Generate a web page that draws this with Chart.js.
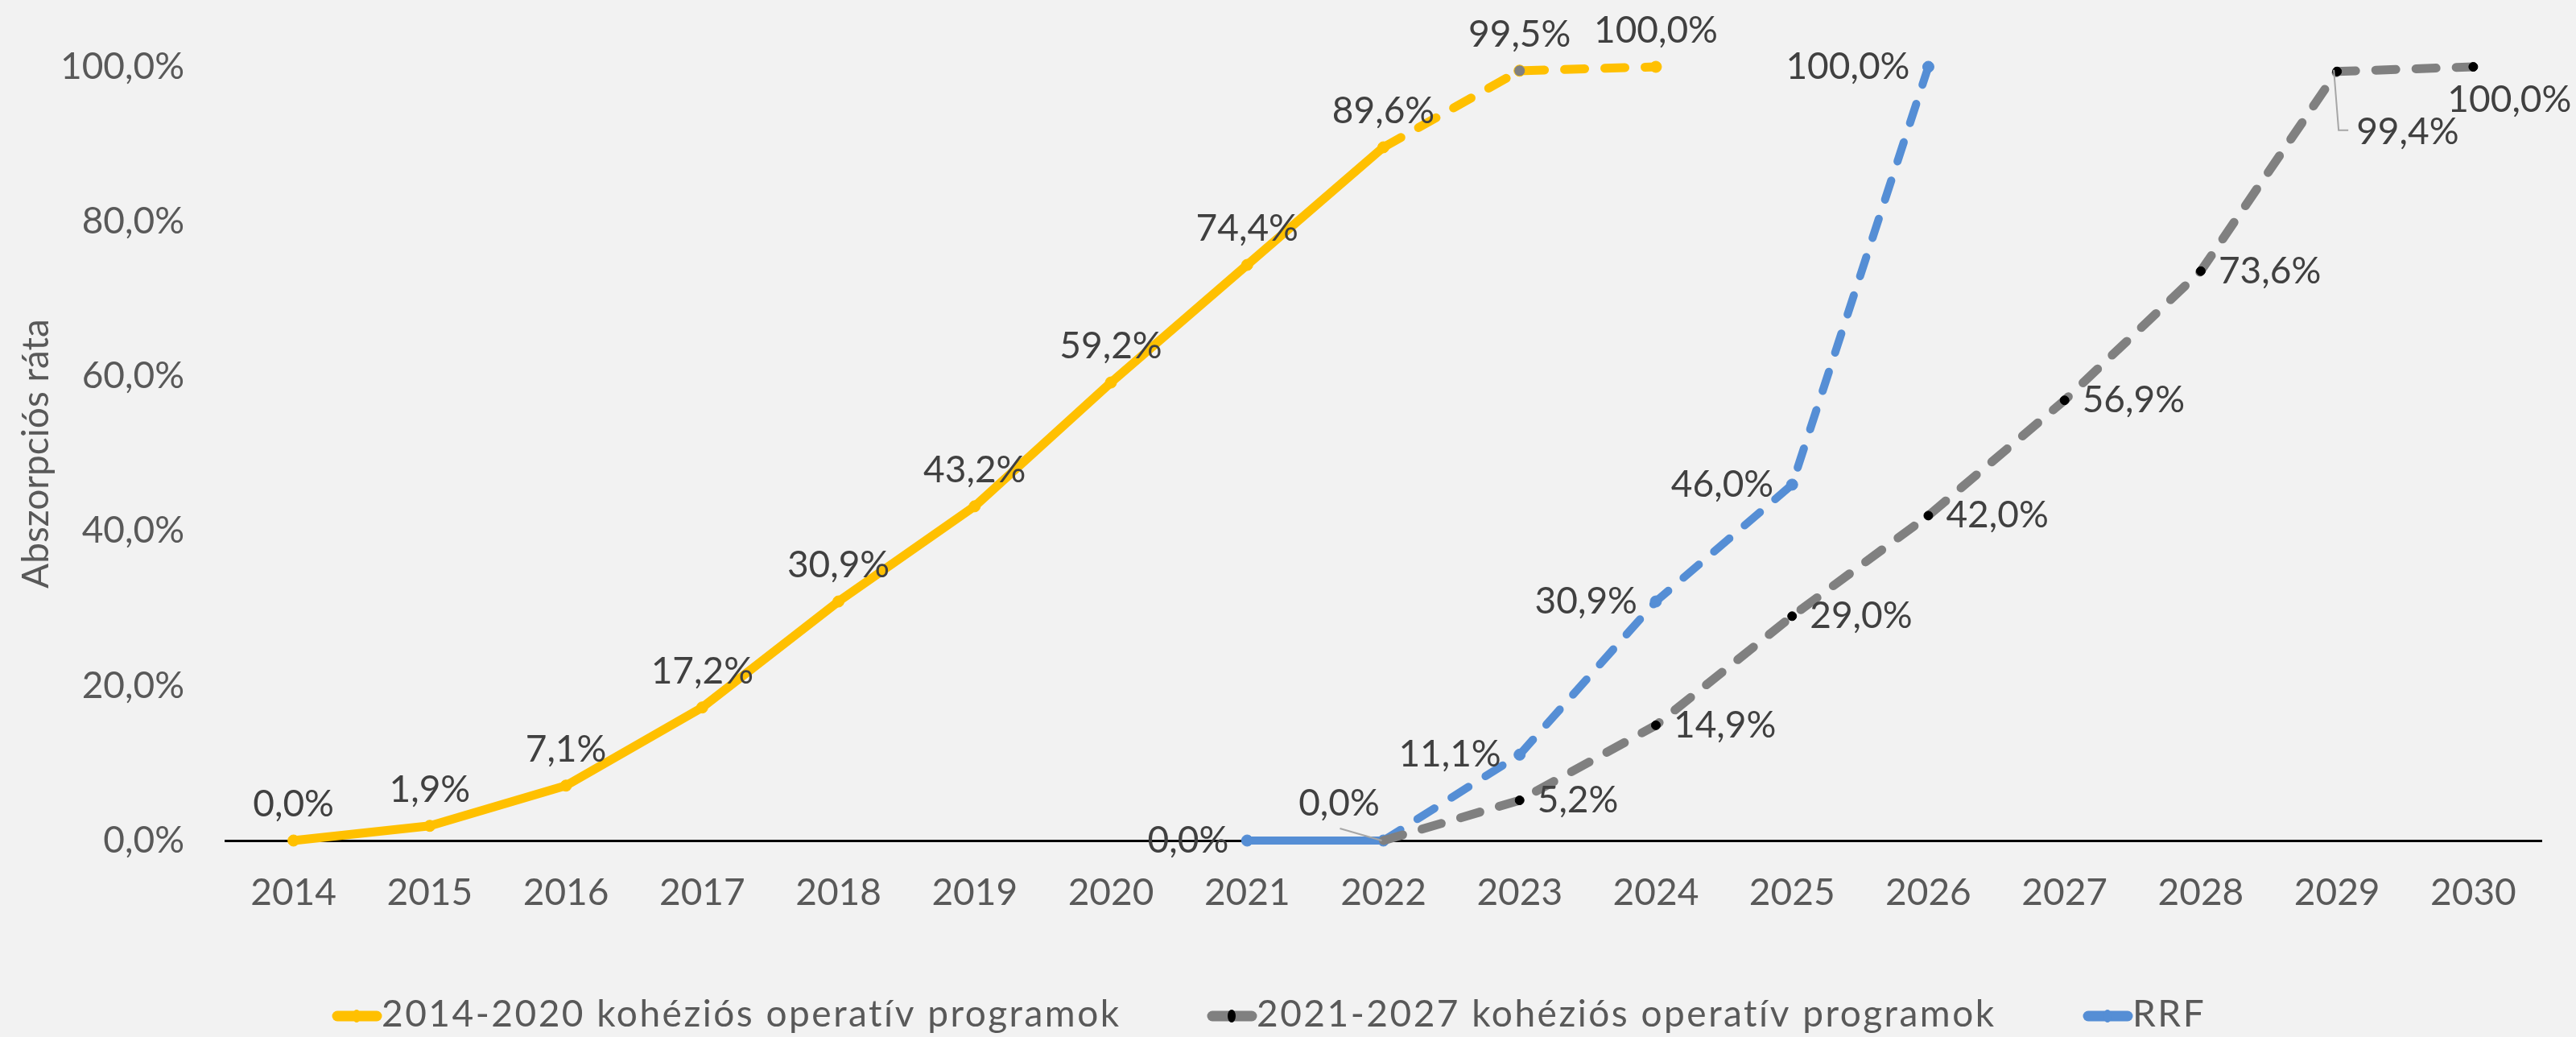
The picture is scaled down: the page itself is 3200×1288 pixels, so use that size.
<!DOCTYPE html>
<html lang="hu">
<head>
    <meta charset="UTF-8">
    <title>Abszorpciós ráta</title>
    <script src="https://cdn.jsdelivr.net/npm/chart.js"></script>
    <style>
        body {
            margin: 0;
            background: #f2f2f2;
        }
        .wrap {
            width: 3200px;
            height: 1288px;
        }
    </style>
</head>
<body>
    <div class="wrap">
        <canvas id="absChart" width="3200" height="1288"></canvas>
    </div>

    <script>
        // adatok
        var years = ['2014', '2015', '2016', '2017', '2018', '2019', '2020', '2021', '2022',
                     '2023', '2024', '2025', '2026', '2027', '2028', '2029', '2030'];
        var prog1420 = [0, 1.9, 7.1, 17.2, 30.9, 43.2, 59.2, 74.4, 89.6, 99.5, 100.0,
                        null, null, null, null, null, null];
        var prog2127 = [null, null, null, null, null, null, null, null, 0, 5.2, 14.9,
                        29.0, 42.0, 56.9, 73.6, 99.4, 100.0];
        var rrf = [null, null, null, null, null, null, null, 0, 0, 11.1, 30.9, 46.0, 100.0,
                   null, null, null, null];
        var seriesNames = ['2014-2020 kohéziós operatív programok',
                           '2021-2027 kohéziós operatív programok', 'RRF'];
        var yTicks = [0, 20, 40, 60, 80, 100];

        var FONT = 'Lato';
        var YELLOW = '#ffc000', GRAY = '#808080', BLUE = '#558ed5';

        function pct(v) {
            return v.toFixed(1).replace('.', ',') + '%';
        }

        // címkék elhelyezése (pont körül)
        var ABOVE = { dx: 0, dy: -45, align: 'center' };
        var LEFT = { dx: -23, dy: 0, align: 'right' };
        var RIGHT = { dx: 22, dy: 0, align: 'left' };
        var labelPlaces = [
            [ABOVE, ABOVE, ABOVE, ABOVE, ABOVE, ABOVE, ABOVE, ABOVE, ABOVE, ABOVE, ABOVE],
            [null, null, null, null, null, null, null, null, null, RIGHT, RIGHT, RIGHT, RIGHT, RIGHT, RIGHT,
             { dx: 24, dy: 75, align: 'left', leader: [[-4, -2], [2, 73], [14, 73]] },
             { dx: 45, dy: 41, align: 'center' }],
            [null, null, null, null, null, null, null, LEFT,
             { dx: -55, dy: -46, align: 'center', leader: [[-54, -15], [-2, 0]] },
             LEFT, LEFT, LEFT, LEFT]
        ];

        var valueLabels = {
            id: 'valueLabels',
            afterDatasetsDraw: function(chart) {
                var ctx = chart.ctx;
                ctx.save();
                ctx.font = '46px ' + FONT;
                ctx.textBaseline = 'middle';
                chart.data.datasets.forEach(function(ds, i) {
                    var meta = chart.getDatasetMeta(i);
                    meta.data.forEach(function(pt, j) {
                        var v = ds.data[j];
                        var place = labelPlaces[i][j];
                        if (v == null || !place) return;
                        if (place.leader) {
                            ctx.strokeStyle = '#a6a6a6';
                            ctx.lineWidth = 2;
                            ctx.beginPath();
                            place.leader.forEach(function(p, k) {
                                if (k === 0) ctx.moveTo(pt.x + p[0], pt.y + p[1]);
                                else ctx.lineTo(pt.x + p[0], pt.y + p[1]);
                            });
                            ctx.stroke();
                        }
                        ctx.fillStyle = '#404040';
                        ctx.textAlign = place.align;
                        ctx.fillText(pct(v), pt.x + place.dx, pt.y + place.dy);
                    });
                });
                ctx.restore();
            }
        };

        // jelmagyarázat az alján
        var legendStarts = [413, 1500, 2588];
        var legendMarks = [
            { line: YELLOW, dot: YELLOW },
            { line: GRAY, dot: '#000000' },
            { line: BLUE, dot: BLUE }
        ];
        var bottomLegend = {
            id: 'bottomLegend',
            afterDraw: function(chart) {
                var ctx = chart.ctx;
                var y = 1262;
                ctx.save();
                seriesNames.forEach(function(name, i) {
                    var x0 = legendStarts[i];
                    ctx.strokeStyle = legendMarks[i].line;
                    ctx.lineWidth = 13;
                    ctx.lineCap = 'round';
                    ctx.beginPath();
                    ctx.moveTo(x0 + 6, y);
                    ctx.lineTo(x0 + 55, y);
                    ctx.stroke();
                    ctx.fillStyle = legendMarks[i].dot;
                    ctx.beginPath();
                    ctx.ellipse(x0 + 30, y, 5, 8, 0, 0, Math.PI * 2);
                    ctx.fill();
                    ctx.fillStyle = '#595959';
                    ctx.font = '46px ' + FONT;
                    ctx.letterSpacing = '2.5px';
                    ctx.textAlign = 'left';
                    ctx.textBaseline = 'middle';
                    ctx.fillText(name, x0 + 61, y - 2);
                });
                ctx.restore();
            }
        };

        var dashAfter = function(idx) {
            return function(ctx) {
                return ctx.p0DataIndex >= idx ? [25, 25] : undefined;
            };
        };

        var ctx = document.getElementById('absChart').getContext('2d');
        var absChart = new Chart(ctx, {
            type: 'line',
            data: {
                labels: years,
                datasets: [{
                    label: seriesNames[0],
                    data: prog1420,
                    borderColor: YELLOW,
                    backgroundColor: YELLOW,
                    pointBackgroundColor: [YELLOW, YELLOW, YELLOW, YELLOW, YELLOW, YELLOW, YELLOW,
                                           YELLOW, YELLOW, GRAY, YELLOW],
                    pointBorderColor: YELLOW,
                    pointRadius: 7,
                    pointBorderWidth: 1,
                    borderWidth: 11,
                    borderCapStyle: 'round',
                    borderJoinStyle: 'round',
                    segment: { borderDash: dashAfter(8) },
                    clip: false
                }, {
                    label: seriesNames[1],
                    data: prog2127,
                    borderColor: GRAY,
                    backgroundColor: '#000000',
                    pointBackgroundColor: '#000000',
                    pointBorderColor: '#000000',
                    pointRadius: [0, 0, 0, 0, 0, 0, 0, 0, 0, 5.5, 5.5, 5.5, 5.5, 5.5, 5.5, 5.5, 5.5],
                    pointBorderWidth: 1,
                    borderWidth: 11,
                    borderCapStyle: 'round',
                    borderDash: [25, 25],
                    clip: false
                }, {
                    label: seriesNames[2],
                    data: rrf,
                    borderColor: BLUE,
                    backgroundColor: BLUE,
                    pointBackgroundColor: BLUE,
                    pointBorderColor: BLUE,
                    pointRadius: 7,
                    pointBorderWidth: 1,
                    borderWidth: 10,
                    borderCapStyle: 'round',
                    borderJoinStyle: 'round',
                    segment: { borderDash: dashAfter(8) },
                    clip: false
                }]
            },
            options: {
                responsive: false,
                animation: false,
                layout: {
                    padding: { left: 0, right: 43, top: 83, bottom: 0 }
                },
                plugins: {
                    legend: { display: false },
                    tooltip: { enabled: false }
                },
                scales: {
                    x: {
                        offset: true,
                        grid: { display: false },
                        border: { display: true, color: '#000000', width: 3 },
                        ticks: {
                            color: '#595959',
                            font: { family: FONT, size: 46 },
                            padding: 30,
                            maxRotation: 0,
                            autoSkip: false
                        },
                        afterFit: function(scale) {
                            scale.height = 244;
                        }
                    },
                    y: {
                        min: 0,
                        max: 100,
                        afterBuildTicks: function(scale) {
                            scale.ticks = yTicks.map(function(v) { return { value: v }; });
                        },
                        grid: { display: false },
                        border: { display: false },
                        ticks: {
                            color: '#595959',
                            font: { family: FONT, size: 46 },
                            padding: 43,
                            callback: function(v) { return pct(v); }
                        },
                        title: {
                            display: true,
                            text: 'Abszorpciós ráta',
                            color: '#595959',
                            font: { family: FONT, size: 46 },
                            padding: { top: 18, bottom: 0 }
                        },
                        afterFit: function(scale) {
                            scale.width = 280;
                        }
                    }
                }
            },
            plugins: [valueLabels, bottomLegend]
        });
    </script>
</body>
</html>
